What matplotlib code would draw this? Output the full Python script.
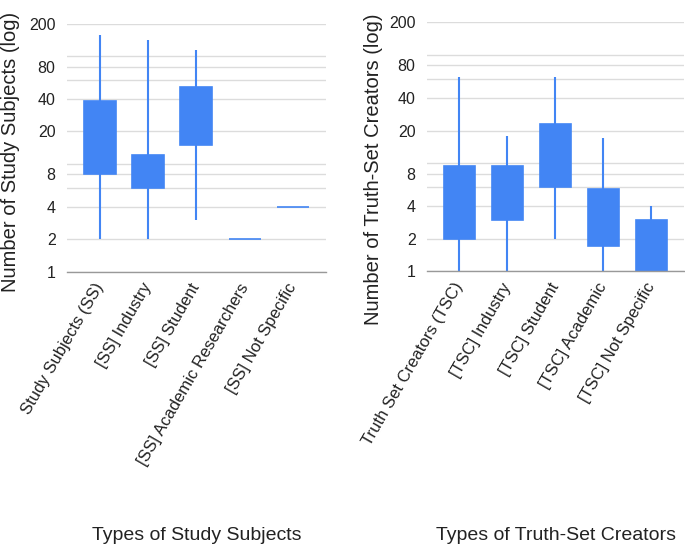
import matplotlib
matplotlib.use("Agg")
import matplotlib.pyplot as plt
from matplotlib.ticker import NullFormatter

plt.rcParams['font.family'] = ['Liberation Sans', 'DejaVu Sans']

ss_categories = ["Study Subjects (SS)", "[SS] Industry", "[SS] Student",
                 "[SS] Academic Researchers", "[SS] Not Specific"]
ss_low = [2, 2, 3, 2, 4]
ss_q1 = [8, 6, 15, 2, 4]
ss_q3 = [38, 12, 52, 2, 4]
ss_high = [157, 140, 115, 2, 4]

tsc_categories = ["Truth Set Creators (TSC)", "[TSC] Industry", "[TSC] Student",
                  "[TSC] Academic", "[TSC] Not Specific"]
tsc_low = [1, 1, 2, 1, 1]
tsc_q1 = [2, 3, 6, 1.73, 1]
tsc_q3 = [9.4, 9.4, 23, 5.8, 3]
tsc_high = [63, 18, 63, 17, 4]

major_ticks = [1, 2, 4, 8, 20, 40, 80, 200]
minor_grid = [6, 10, 60, 100]

BLUE = "#4285F4"
TXT = "#222222"

fig = plt.figure(figsize=(6.85, 5.48), dpi=100)
W, H = 685, 548

def make_ax(left_px, right_px, top_px, bottom_px):
    return fig.add_axes([left_px / W, 1 - bottom_px / H,
                         (right_px - left_px) / W, (bottom_px - top_px) / H])

ax1 = make_ax(66.7, 326, 23.7, 271.7)
ax2 = make_ax(426.7, 684, 22.4, 271.3)

def draw(ax, cats, low, q1, q3, high, ylabel, ylab_x, ylab_y):
    x = list(range(len(cats)))
    ax.set_yscale('log')
    ax.set_ylim(1, 200)
    ax.set_xlim(-0.68, 4.68)
    ax.vlines(x, low, high, color=BLUE, linewidth=1.5, zorder=3)
    heights = [b - a for a, b in zip(q1, q3)]
    ax.bar(x, heights, bottom=q1, width=0.66, color=BLUE, edgecolor=BLUE,
           linewidth=1.2, zorder=4)
    ax.set_yticks(major_ticks)
    ax.set_yticklabels([str(t) for t in major_ticks])
    ax.set_yticks(minor_grid, minor=True)
    ax.yaxis.set_minor_formatter(NullFormatter())
    ax.grid(True, which='both', axis='y', color='#dcdcdc', linewidth=1, zorder=0)
    ax.set_axisbelow(True)
    ax.tick_params(axis='y', which='both', length=0, pad=8, labelsize=11.5,
                   labelcolor=TXT)
    ax.tick_params(axis='x', length=0, pad=9)
    ax.set_xticks(x)
    ax.set_xticklabels(cats, rotation=60, ha='right', va='center',
                       rotation_mode='anchor', fontsize=12, color=TXT)
    for s in ['top', 'right', 'left']:
        ax.spines[s].set_visible(False)
    ax.spines['bottom'].set_color('#999999')
    ax.spines['bottom'].set_linewidth(1)
    ax.spines['bottom'].set_zorder(5)
    ax.text(ylab_x, ylab_y, ylabel, transform=ax.transAxes, rotation=90,
            ha='center', va='center', fontsize=14.5, color=TXT)

draw(ax1, ss_categories, ss_low, ss_q1, ss_q3, ss_high,
     "Number of Study Subjects (log)", -0.215, 0.483)
draw(ax2, tsc_categories, tsc_low, tsc_q1, tsc_q3, tsc_high,
     "Number of Truth-Set Creators (log)", -0.207, 0.41)

fig.text(197 / W, 1 - 535 / H, "Types of Study Subjects", ha='center',
         va='center', fontsize=14, color=TXT)
fig.text(556.5 / W, 1 - 535 / H, "Types of Truth-Set Creators", ha='center',
         va='center', fontsize=14, color=TXT)

fig.savefig("out.png", dpi=100)
